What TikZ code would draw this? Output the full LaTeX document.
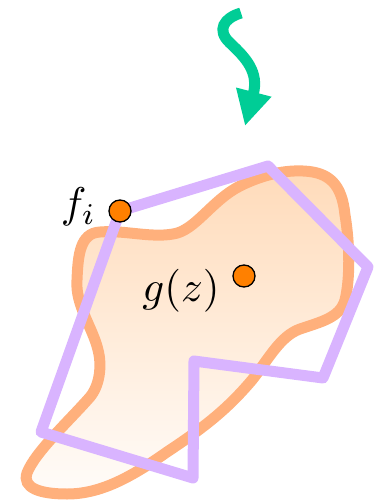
\documentclass[tikz,border=0pt]{standalone}
\usetikzlibrary{arrows.meta, positioning}

\definecolor{blobline}{RGB}{255,176,124}
\definecolor{blobtop}{RGB}{255,219,186}
\definecolor{blobbottom}{RGB}{255,252,249}
\definecolor{hullcolor}{RGB}{217,180,255}
\definecolor{dotcolor}{RGB}{255,128,0}
\definecolor{flowgreen}{RGB}{0,205,150}

\begin{document}
\begin{tikzpicture}[
    x=1pt, y=-1pt, % pixel-like units, y pointing down
    blobstyle/.style={draw=blobline, line width=11pt, top color=blobtop, bottom color=blobbottom}, % Style for the region
    hullstyle/.style={draw=hullcolor, line width=11pt, line join=round}, % Style for the polygon
    dotstyle/.style={circle, draw=black, line width=1.3pt, fill=dotcolor, minimum size=22pt, inner sep=0pt}, % Style for the points
    labelstyle/.style={scale=4.3, inner sep=0pt}, % Style for labels
    flowarrow/.style={draw=flowgreen, line width=11pt, -{Triangle[length=35pt, width=34pt]}} % Style for the curly arrow
]
    \useasboundingbox (0,0) rectangle (385,502);

    % --- Curly arrow ---
    \coordinate (start) at (241,13);
    \coordinate (tip) at (245,126);
    \draw[flowarrow] (start) .. controls (224,18) and (216,30) .. (230,43)
        .. controls (246,58) and (259,72) .. (tip);

    % --- Region ---
    \path[blobstyle] (100,232)
        .. controls (125,230) and (150,238) .. (173,234)
        .. controls (195,231) and (212,200) .. (240,186)
        .. controls (258,177) and (280,170) .. (303,171)
        .. controls (330,172) and (342,185) .. (345,215)
        .. controls (350,245) and (350,280) .. (345,300)
        .. controls (340,318) and (320,322) .. (300,329)
        .. controls (280,336) and (268,360) .. (252,380)
        .. controls (225,412) and (200,430) .. (167,452)
        .. controls (130,478) and (100,494) .. (67,494)
        .. controls (40,494) and (22,488) .. (27,473)
        .. controls (35,452) and (70,420) .. (90,397)
        .. controls (100,385) and (102,365) .. (98,350)
        .. controls (93,328) and (75,305) .. (77,280)
        .. controls (78,255) and (80,233) .. (100,232) -- cycle;

    % --- Polygon ---
    \coordinate (p1) at (120,211);
    \coordinate (p2) at (268,166);
    \coordinate (p3) at (368,267);
    \coordinate (p4) at (323,378);
    \coordinate (p5) at (194,361);
    \coordinate (p6) at (193,478);
    \coordinate (p7) at (41,432);
    \draw[hullstyle] (p1) -- (p2) -- (p3) -- (p4) -- (p5) -- (p6) -- (p7) -- cycle;

    % --- Points and labels ---
    \node[dotstyle] (fi) at (p1) {};
    \node[dotstyle] (gz) at (244,276) {};
    \node[labelstyle, anchor=east] (filabel) at (97,207) {$f_i$};
    \node[labelstyle] (gzlabel) at (181,291) {$g(z)$};

\end{tikzpicture}
\end{document}
